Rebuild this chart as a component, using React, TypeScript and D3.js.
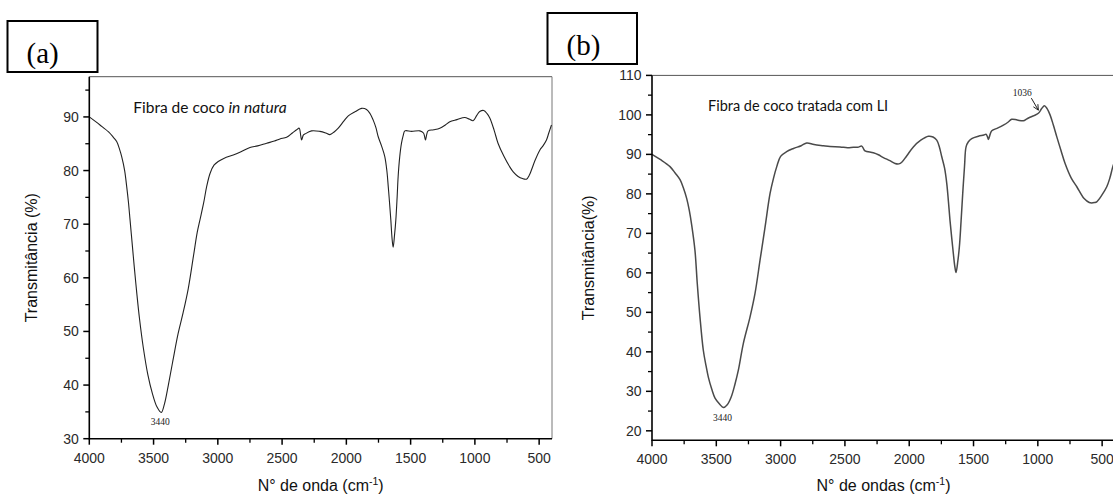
import React from "react";
import * as d3 from "d3";

// (a) coconut fibre in natura
const waveA = [4000, 3917, 3850, 3813, 3787, 3765, 3748, 3725, 3709, 3695, 3683, 3665, 3650, 3630, 3610, 3580, 3545, 3510, 3475, 3440, 3415, 3385, 3350, 3310, 3270, 3230, 3190, 3160, 3139, 3110, 3087, 3060, 3030, 2997, 2950, 2880, 2820, 2750, 2690, 2620, 2560, 2517, 2465, 2420, 2387, 2367, 2355, 2348, 2335, 2323, 2271, 2206, 2160, 2128, 2095, 2063, 2020, 1985, 1930, 1882, 1843, 1815, 1791, 1770, 1752, 1725, 1701, 1685, 1674, 1664, 1654, 1645, 1636, 1625, 1615, 1605, 1597, 1585, 1571, 1558, 1545, 1493, 1428, 1400, 1390, 1384, 1375, 1364, 1320, 1273, 1230, 1195, 1140, 1078, 1045, 1014, 985, 962, 931, 905, 884, 850, 820, 775, 729, 700, 664, 630, 599, 575, 560, 530, 495, 470, 443, 425, 404];
const transA = [90, 88.5, 87.2, 86.2, 85.4, 84, 82.6, 80, 77, 74, 70.8, 66, 62, 57, 52.5, 47, 42, 38.5, 36, 34.9, 36.5, 40, 44.5, 49.5, 53.5, 58, 64, 68.5, 70.8, 74, 77, 79.5, 81, 81.7, 82.3, 82.9, 83.5, 84.3, 84.6, 85.1, 85.5, 85.9, 86.2, 87, 87.6, 87.9, 86.5, 85.7, 86.6, 86.8, 87.4, 87.3, 87, 86.7, 87.2, 87.9, 89.2, 90.2, 91, 91.6, 91.4, 90.6, 89.4, 88, 86.3, 84.5, 82.6, 80, 77, 74, 70.8, 67.5, 65.7, 68, 70.8, 75, 78.9, 82.5, 85.1, 86.5, 87.4, 87.3, 87.4, 87, 86.2, 85.7, 86.7, 87.4, 87.6, 87.9, 88.5, 89.1, 89.5, 89.9, 89.6, 89.3, 90.3, 91, 91.2, 90.6, 89.8, 87.5, 85.1, 82.7, 80.7, 79.7, 78.9, 78.5, 78.4, 79.2, 80.1, 82, 83.8, 84.6, 85.7, 87, 88.5];

// (b) coconut fibre treated with ionic liquid
const waveB = [4000, 3930, 3860, 3820, 3782, 3757, 3730, 3710, 3691, 3666, 3648, 3627, 3601, 3580, 3562, 3535, 3510, 3475, 3445, 3415, 3385, 3355, 3329, 3290, 3238, 3199, 3160, 3121, 3082, 3055, 3030, 3000, 2953, 2900, 2840, 2797, 2740, 2668, 2616, 2538, 2480, 2434, 2400, 2369, 2355, 2344, 2279, 2240, 2201, 2150, 2110, 2080, 2058, 2020, 1968, 1910, 1851, 1815, 1786, 1765, 1747, 1725, 1708, 1695, 1683, 1670, 1657, 1645, 1636, 1622, 1610, 1597, 1584, 1570, 1558, 1540, 1514, 1462, 1420, 1403, 1392, 1384, 1370, 1358, 1310, 1268, 1230, 1203, 1160, 1113, 1085, 1061, 1030, 996, 970, 949, 928, 905, 880, 853, 820, 788, 740, 697, 640, 600, 581, 560, 542, 500, 464, 440, 417, 400];
const transB = [90, 88.6, 86.9, 85.3, 83.6, 81.6, 78.8, 75.8, 72, 65.7, 57.3, 48.8, 40.4, 36.5, 33.6, 30.5, 28.3, 26.8, 25.9, 26.6, 28.5, 31.8, 35.3, 42.1, 48.8, 54.8, 63.2, 71.6, 80.1, 84, 86.9, 89.5, 90.7, 91.5, 92.2, 92.9, 92.5, 92.2, 92, 91.9, 91.7, 91.8, 91.8, 92.1, 91.4, 90.9, 90.4, 89.9, 89.2, 88.4, 87.7, 87.6, 88, 89.6, 91.9, 93.6, 94.6, 94.4, 93.6, 91.8, 89.4, 86.5, 82.6, 78, 73.3, 69, 64.9, 61.5, 60.1, 63, 66.6, 73, 80.1, 87, 91.9, 93.2, 94, 94.6, 94.9, 95.1, 94.5, 93.8, 95.2, 96, 96.7, 97.4, 98.2, 98.9, 98.7, 98.5, 99, 99.4, 99.8, 100.4, 101.6, 102.3, 101.6, 100, 97.5, 94.5, 91, 87.7, 84, 81.8, 78.8, 77.8, 77.7, 77.8, 78, 79.8, 81.8, 84, 86.9, 88.5];

const xTicks = [4000, 3500, 3000, 2500, 2000, 1500, 1000, 500];
const xMinor = [3750, 3250, 2750, 2250, 1750, 1250, 750];
const yTicksA = [30, 40, 50, 60, 70, 80, 90];
const yMinorA = [35, 45, 55, 65, 75, 85, 95];
const yTicksB = [20, 30, 40, 50, 60, 70, 80, 90, 100, 110];
const yMinorB = [25, 35, 45, 55, 65, 75, 85, 95, 105];

const sans = "'Liberation Sans', Arial, sans-serif";
const serif = "'Liberation Serif', 'Times New Roman', serif";
const calibri = "Lato, 'Open Sans', sans-serif";

function Panel(props: any) {
  const { x0, x1, y0, y1, xDomain, yDomain, waves, trans, yTicks, yMinor, yTitle, yTitleOff, xTitle, title, titleSize, titleDx, italic, stroke, strokeW, clipRight, minLabel, children } = props;
  const x = d3.scaleLinear().domain(xDomain).range([x0, x1]);
  const y = d3.scaleLinear().domain(yDomain).range([y1, y0]);
  const pts = waves.map((w: number, i: number) => [w, trans[i]] as [number, number]);
  const line = d3.line<[number, number]>().x(d => x(d[0])).y(d => y(d[1])).curve(d3.curveCatmullRom.alpha(0.5));
  const right = Math.min(x1, clipRight);
  const minIdx = d3.minIndex(trans);
  const yMid = (y0 + y1) / 2;
  return (
    <g>
      <line x1={x0} x2={right} y1={y0} y2={y0} stroke="#555" strokeWidth={1} />
      {x1 <= clipRight && <line x1={x1} x2={x1} y1={y0} y2={y1} stroke="#777" strokeWidth={1} />}
      <path d={line(pts) || ""} fill="none" stroke={stroke} strokeWidth={strokeW} strokeLinejoin="round" />
      <line x1={x0} x2={x0} y1={y0} y2={y1 + 0.8} stroke="#000" strokeWidth={1.6} />
      <line x1={x0} x2={right} y1={y1} y2={y1} stroke="#000" strokeWidth={1.6} />
      {xTicks.map(t => (
        <g key={"xt" + t}>
          <line x1={x(t)} x2={x(t)} y1={y1} y2={y1 + 6} stroke="#000" strokeWidth={1.5} />
          <text x={x(t)} y={y1 + 24} textAnchor="middle" fontFamily={sans} fontSize={14} fill="#2a2a2a">{t}</text>
        </g>
      ))}
      {xMinor.map(t => (
        <line key={"xm" + t} x1={x(t)} x2={x(t)} y1={y1} y2={y1 + 4} stroke="#000" strokeWidth={1.3} />
      ))}
      {yTicks.map((t: number) => (
        <g key={"yt" + t}>
          <line x1={x0 - 6} x2={x0} y1={y(t)} y2={y(t)} stroke="#000" strokeWidth={1.5} />
          <text x={x0 - 10.5} y={y(t)} dy="0.36em" textAnchor="end" fontFamily={sans} fontSize={14} fill="#2a2a2a">{t}</text>
        </g>
      ))}
      {yMinor.map((t: number) => (
        <line key={"ym" + t} x1={x0 - 4} x2={x0} y1={y(t)} y2={y(t)} stroke="#000" strokeWidth={1.3} />
      ))}
      <text transform={`translate(${x0 - yTitleOff},${yMid}) rotate(-90)`} textAnchor="middle" fontFamily={sans} fontSize={16} fill="#111">{yTitle}</text>
      <text x={x(2200)} y={491} textAnchor="middle" fontFamily={sans} fontSize={16} fill="#111">
        {xTitle} (cm<tspan fontSize={10.5} dy={-6.5}>-1</tspan><tspan dy={6.5}>)</tspan>
      </text>
      <text x={x0 + titleDx} y={y0 + 36} fontFamily={calibri} fontSize={titleSize} fill="#111">
        {title}{italic && <tspan fontStyle="italic">{italic}</tspan>}
      </text>
      <text x={x(waves[minIdx]) - 1} y={y(trans[minIdx]) + 13} textAnchor="middle" fontFamily={serif} fontSize={9.5} fill="#222">{minLabel}</text>
      {children && children(x, y)}
    </g>
  );
}

function LabelBox({ x, y, w, h, label }: any) {
  return (
    <g>
      <rect x={x} y={y} width={w} height={h} fill="#fff" stroke="#000" strokeWidth={2} />
      <text x={x + 19} y={y + h - 9} fontFamily={serif} fontSize={29} fill="#000">{label}</text>
    </g>
  );
}

export default function App() {
  const W = 1113;
  const H = 495;
  return (
    <svg width={W} height={H} style={{ position: "absolute", left: 0, top: 0, background: "#fff" }}>
      <rect width={W} height={H} fill="#fff" />
      <Panel x0={89.3} x1={552} y0={76.7} y1={438.7} xDomain={[4000, 400]} yDomain={[30, 97.5]}
        waves={waveA} trans={transA} yTicks={yTicksA} yMinor={yMinorA} yTitleOff={52}
        yTitle="Transmitância (%)" xTitle="N° de onda" title="Fibra de coco " italic="in natura"
        titleSize={15.5} titleDx={44}
        stroke="#222" strokeW={1.1} clipRight={W} minLabel="3440" />
      <Panel x0={652} x1={1115} y0={75.4} y1={440.3} xDomain={[4000, 400]} yDomain={[17.6, 110]}
        waves={waveB} trans={transB} yTicks={yTicksB} yMinor={yMinorB} yTitleOff={58}
        yTitle="Transmitância(%)" xTitle="N° de ondas" title="Fibra de coco tratada com LI"
        titleSize={14.5} titleDx={56}
        stroke="#4a4a4a" strokeW={1.5} clipRight={W} minLabel="3440">
        {(x: any, y: any) => {
          const tx = x(996), ty = y(101.2);
          const sx = tx - 7, sy = ty - 12;
          const ang = Math.atan2(ty - sy, tx - sx);
          const a1 = ang + Math.PI - 0.45, a2 = ang + Math.PI + 0.45;
          return (
            <g>
              <line x1={sx} y1={sy} x2={tx} y2={ty} stroke="#222" strokeWidth={1} />
              <line x1={tx} y1={ty} x2={tx + 6 * Math.cos(a1)} y2={ty + 6 * Math.sin(a1)} stroke="#222" strokeWidth={1} />
              <line x1={tx} y1={ty} x2={tx + 6 * Math.cos(a2)} y2={ty + 6 * Math.sin(a2)} stroke="#222" strokeWidth={1} />
              <text x={tx - 16} y={ty - 14} textAnchor="middle" fontFamily={serif} fontSize={9.5} fill="#222">1036</text>
            </g>
          );
        }}
      </Panel>
      <LabelBox x={7.5} y={21} w={90} h={51} label="(a)" />
      <LabelBox x={547.5} y={13} w={89.5} h={51} label="(b)" />
    </svg>
  );
}
